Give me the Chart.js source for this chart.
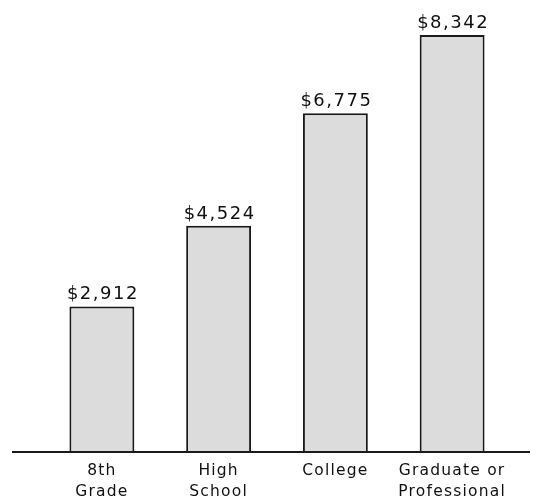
<!DOCTYPE html>
<html>
<head>
<meta charset="utf-8">
<script src="https://cdn.jsdelivr.net/npm/chart.js@4"></script>
<style>
  html, body { margin: 0; padding: 0; background: #fff; }
  #wrap { width: 540px; height: 500px; }
</style>
</head>
<body>
<div id="wrap"><canvas id="myChart"></canvas></div>
<script>
// Dados do gráfico
const categories = [['8th', 'Grade'], ['High', 'School'], ['College'], ['Graduate or', 'Professional']];
const income = [2912, 4524, 6775, 8342];
const valueLabels = ['$2,912', '$4,524', '$6,775', '$8,342'];

// baseline extended past the bars + dollar labels above each bar
const decorPlugin = {
    id: 'decor',
    beforeDraw(chart) {
        chart.ctx.letterSpacing = '1.2px';
    },
    afterDatasetsDraw(chart) {
        const ctx = chart.ctx;
        const y0 = chart.scales.y.getPixelForValue(0);
        ctx.save();
        ctx.strokeStyle = '#1a1a1a';
        ctx.lineWidth = 2;
        ctx.beginPath();
        ctx.moveTo(12, y0);
        ctx.lineTo(530, y0);
        ctx.stroke();

        ctx.fillStyle = '#111';
        ctx.font = '18px "DejaVu Sans"';
        ctx.letterSpacing = '1.5px';
        ctx.textAlign = 'center';
        ctx.textBaseline = 'alphabetic';
        chart.getDatasetMeta(0).data.forEach((bar, i) => {
            ctx.fillText(valueLabels[i], bar.x + 1, bar.y - 7);
        });
        ctx.restore();
        ctx.letterSpacing = '1.2px';
    }
};

const ctx = document.getElementById('myChart').getContext('2d');
const myChart = new Chart(ctx, {
    type: 'bar',
    data: {
        labels: categories,
        datasets: [{
            data: income,
            backgroundColor: '#dcdcdc',
            borderColor: '#1a1a1a',
            borderWidth: 2,
            categoryPercentage: 1,
            barPercentage: 0.556
        }]
    },
    options: {
        responsive: true,
        maintainAspectRatio: false,
        animation: false,
        layout: {
            padding: { left: 43.5, right: 29.5, top: 2, bottom: 0 }
        },
        scales: {
            x: {
                grid: { display: false, drawTicks: false },
                border: { display: false },
                ticks: {
                    color: '#111',
                    padding: 9,
                    maxRotation: 0,
                    autoSkip: false,
                    font: { family: 'DejaVu Sans', size: 15.5, lineHeight: 1.35 }
                },
                afterFit: function(scale) { scale.height = 48; }
            },
            y: {
                display: false,
                min: 0,
                max: 9000
            }
        },
        plugins: {
            legend: { display: false },
            tooltip: { enabled: false }
        }
    },
    plugins: [decorPlugin]
});
</script>
</body>
</html>
